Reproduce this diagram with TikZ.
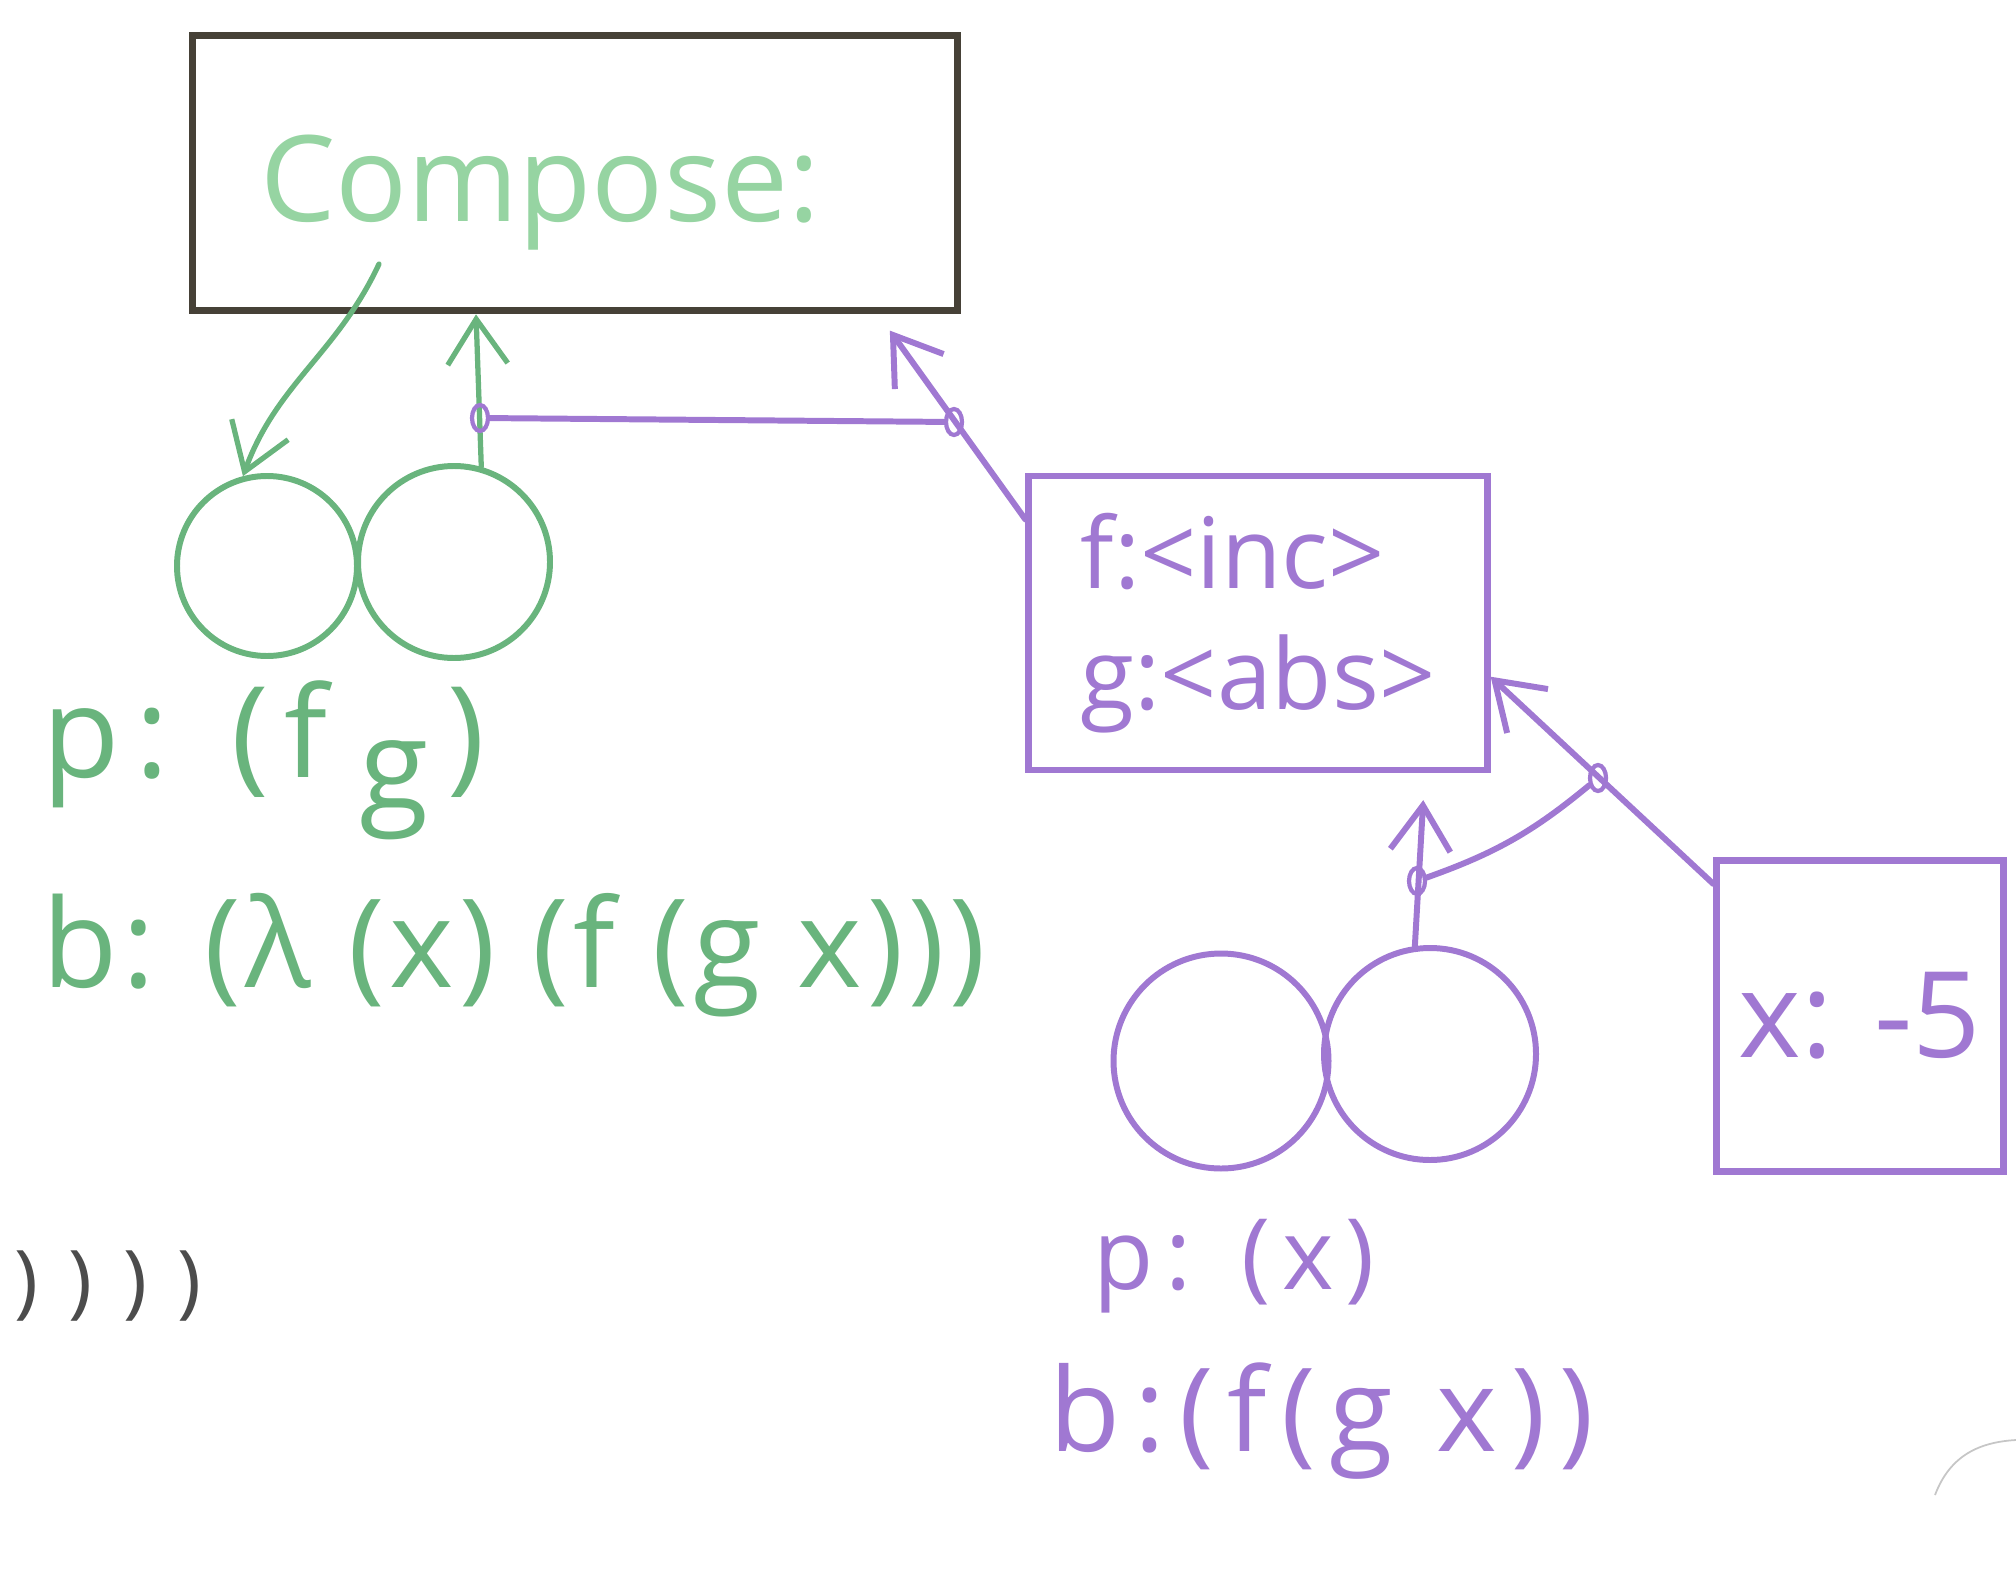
\documentclass[tikz,border=0pt]{standalone}
\usepackage{fontspec}
\setmainfont{Open Sans}
\usetikzlibrary{arrows.meta,positioning,shapes.geometric}
\definecolor{penGreen}{RGB}{105,180,125}
\definecolor{lightGreen}{RGB}{150,212,162}
\definecolor{penPurple}{RGB}{160,120,210}
\definecolor{boxInk}{RGB}{70,65,55}

\begin{document}
\begin{tikzpicture}[
  greenpen/.style={draw=penGreen, line width=1.5pt, line cap=round},
  purplepen/.style={draw=penPurple, line width=1.7pt, line cap=round},
  tip/.style={-{Straight Barb[length=4.5mm,width=6mm]}},
  ring/.style={circle, minimum size=#1, inner sep=0pt, line width=1.7pt},
  junc/.style={ellipse, draw=penPurple, line width=1.2pt, minimum width=0.16cm, minimum height=0.26cm, inner sep=0pt},
  hand/.style={font=\fontsize{#1}{#1}\selectfont\addfontfeatures{LetterSpace=12}}
]
\useasboundingbox (0,0) rectangle (20.16,-15.88);

% Compose box
\node[draw=boxInk, line width=2.2pt, minimum width=7.65cm, minimum height=2.75cm] (compose) at (5.75,-1.73) {};
\node[text=lightGreen, font=\fontsize{34}{40}\selectfont] (ctext) at (5.40,-1.93) {Compose:};

% green pair
\node[ring=1.8cm, draw=penGreen] (pl) at (2.67,-5.66) {};
\node[ring=1.92cm, draw=penGreen] (pr) at (4.54,-5.62) {};
\node[text=penGreen, hand=36, anchor=west] (pgreen) at (0.30,-7.60) {p:\hspace{0.5em}(f\hspace{0.25em}\raisebox{-9pt}{g}\hspace{0.15em})};
\node[text=penGreen, font=\fontsize{35}{35}\selectfont\addfontfeatures{LetterSpace=4}, anchor=west] (bgreen) at (0.30,-9.55) {b: (λ (x) (f (g x)))};
\node[text=black!70, hand=23] (tail) at (1.08,-12.86) {) ) ) )};

% env box and value box
\node[draw=penPurple, line width=1.8pt, minimum width=4.59cm, minimum height=2.94cm, text=penPurple, align=left, font=\fontsize{28}{34.6}\selectfont] (fg) at (12.58,-6.23) {f:<inc>\\g:<abs>};
\node[draw=penPurple, line width=1.8pt, minimum width=2.87cm, minimum height=3.11cm, text=penPurple, font=\fontsize{34}{40}\selectfont] (xbox) at (18.60,-10.16) {x: -5};

% purple pair
\node[ring=2.15cm, draw=penPurple] (ql) at (12.21,-10.61) {};
\node[ring=2.12cm, draw=penPurple] (qr) at (14.30,-10.54) {};
\node[text=penPurple, hand=28] (ppurple) at (12.34,-12.66) {p: (x)};
\node[text=penPurple, hand=33] (bpurple) at (13.22,-14.21) {b:(f(g x))};

% green arrows
\coordinate (cstart) at (3.79,-2.64);
\draw[greenpen, tip] (cstart) to[out=-115, in=70] (pl.105);
\draw[greenpen, tip] (pr.74) -- (compose.-125);

% purple arrows
\draw[purplepen, tip, shorten >=0.2cm] (fg.156) -- (compose.-25);
\draw[purplepen, tip, shorten >=0.27cm] (qr.98) -- (fg.-42);
\draw[purplepen, tip] (xbox.138) -- (fg.-13);

% junctions
\node[junc] (jg) at (4.80,-4.18) {};
\node[junc] (jp1) at (9.54,-4.22) {};
\node[junc] (jq1) at (14.17,-8.81) {};
\node[junc] (jq2) at (15.98,-7.78) {};
\draw[purplepen] (jg) -- (jp1);
\draw[purplepen] (jq1) to[bend right=10] (jq2);

% stray mark
\draw[gray!45, line width=0.5pt] (19.35,-14.95) .. controls (19.5,-14.55) and (19.8,-14.42) .. (20.16,-14.40);
\end{tikzpicture}
\end{document}
